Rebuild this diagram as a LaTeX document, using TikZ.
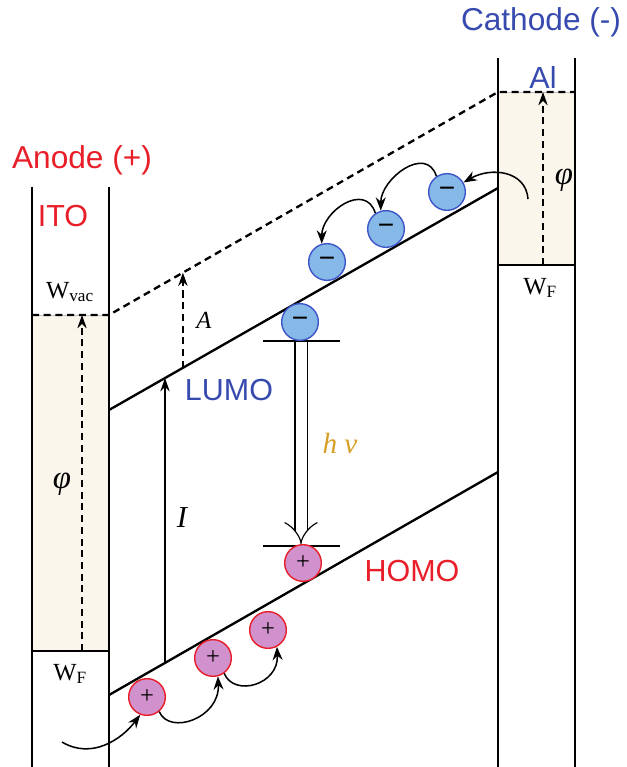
\documentclass[tikz,border=0pt]{standalone}
\usepackage{fontspec}
\setmainfont{Liberation Serif}
\setsansfont{Liberation Sans}
\usetikzlibrary{arrows.meta,calc}
\definecolor{AnodeRed}{RGB}{232,30,40}
\definecolor{CathBlue}{RGB}{55,75,175}
\definecolor{Beige}{RGB}{250,246,236}
\definecolor{ElecFill}{RGB}{135,185,232}
\definecolor{ElecLine}{RGB}{60,85,200}
\definecolor{HoleFill}{RGB}{208,145,205}
\definecolor{PhotonGold}{RGB}{214,160,40}

\begin{document}
\begin{tikzpicture}[x=0.03cm, y=-0.03cm,
  elec/.style={circle, draw=ElecLine, fill=ElecFill, line width=1.2pt, minimum size=1.1cm, inner sep=0pt, font=\sffamily\fontsize{24}{24}\selectfont},
  hole/.style={circle, draw=AnodeRed, fill=HoleFill, line width=1.2pt, minimum size=1.1cm, inner sep=0pt, font=\fontsize{21}{21}\selectfont},
  elabel/.style={font=\sffamily\fontsize{27}{27}\selectfont},
  bandlbl/.style={font=\sffamily\fontsize{26}{26}\selectfont},
  wlabel/.style={font=\fontsize{21}{21}\selectfont},
  greek/.style={font=\itshape\fontsize{28}{28}\selectfont},
  band/.style={line width=2pt},
  vac/.style={line width=2pt, dash pattern=on 6pt off 4pt},
  hop/.style={-{Stealth[length=4mm,width=3mm]}, line width=1.3pt},
  gap/.style={line width=1.2pt, dash pattern=on 6pt off 4pt, -{Stealth[length=4mm,width=2.8mm]}}]
\useasboundingbox (0,0) rectangle (627,767);

% electrodes
\fill[Beige, draw=black!25, line width=0.8pt] (32,315) rectangle (109,651);
\fill[Beige, draw=black!25, line width=0.8pt] (498,92) rectangle (575,265);
\draw[band] (32,187) -- (32,767);
\draw[band] (109,187) -- (109,767);
\draw[band] (498,58) -- (498,767);
\draw[band] (575,58) -- (575,767);
\draw[band] (32,651) -- (109,651);
\draw[band] (498,265) -- (575,265);

% levels
\coordinate (ito-vac)  at (109,315);
\coordinate (al-vac)   at (498,92);
\coordinate (ito-lumo) at (109,410);
\coordinate (al-lumo)  at (498,188);
\coordinate (ito-homo) at (109,695);
\coordinate (al-homo)  at (498,472);
\draw[vac] (32,315) -- (ito-vac) -- (al-vac) -- (575,92);
\draw[band] (ito-lumo) -- (al-lumo);
\draw[band] (ito-homo) -- (al-homo);

% work functions
\draw[gap] (82,651) -- (82,315);
\draw[gap] (543,265) -- (543,92);
\draw[gap] ($(ito-lumo)!0.19!(al-lumo)$) -- ($(ito-vac)!0.19!(al-vac)$);
\draw[-{Stealth[length=4mm,width=2.8mm]}, line width=1.2pt] ($(ito-homo)!0.144!(al-homo)$) -- ($(ito-lumo)!0.144!(al-lumo)$);

% labels
\node[elabel, text=AnodeRed] (anode) at (82,160) {Anode (+)};
\node[bandlbl, text=AnodeRed] (ito) at (63,216) {ITO};
\node[wlabel] (wvac) at (70,292) {W\textsubscript{vac}};
\node[wlabel] (wf1) at (70,674) {W\textsubscript{F}};
\node[wlabel] (wf2) at (540,288) {W\textsubscript{F}};
\node[greek] (phi1) at (62,484) {φ};
\node[greek] (phi2) at (564,180) {φ};
\node[elabel, text=CathBlue] (cathode) at (541,22) {Cathode (-)};
\node[bandlbl, text=CathBlue] (al) at (543,77) {Al};
\node[font=\itshape\fontsize{21}{21}\selectfont] (affin) at (204,320) {A};
\node[font=\itshape\fontsize{26}{26}\selectfont] (ioniz) at (182,518) {I};
\node[bandlbl, text=CathBlue] (lumo) at (229,390) {LUMO};
\node[bandlbl, text=AnodeRed] (homo) at (412,571) {HOMO};
\node[greek, text=PhotonGold, font=\itshape\fontsize{25}{25}\selectfont] (hnu) at (340,443) {h ν};

% recombination
\coordinate (up-l) at (263,341);
\coordinate (up-r) at (340,341);
\coordinate (dn-l) at (263,546);
\coordinate (dn-r) at (340,546);
\draw[band] (up-l) -- (up-r);
\draw[band] (dn-l) -- (dn-r);
\draw[double distance=0.33cm, line width=1pt, -{Implies}] (301,342) -- (301,544);

% charges
\node[elec] (e1) at (447,192) {−};
\node[elec] (e2) at (386,229) {−};
\node[elec] (e3) at (327,262) {−};
\node[elec] (e4) at (300,322) {−};
\node[hole] (h1) at (147,697) {+};
\node[hole] (h2) at (213,658) {+};
\node[hole] (h3) at (268,630) {+};
\node[hole] (h4) at (303,563) {+};

% hopping
\coordinate (e-in) at (528,199);
\coordinate (h-in) at (62,742);
\draw[hop] (e-in) .. controls +(-2,-28) and +(28,-16) .. (e1.30);
\draw[hop] (e1.124) .. controls +(-10,-32) and +(0,-32) .. (e2.106);
\draw[hop] (e2.124) .. controls +(-10,-32) and +(0,-32) .. (e3.106);
\draw[hop] (h-in) .. controls +(30,18) and +(-18,24) .. (h1.249);
\draw[hop] (h1.-50) .. controls +(10,24) and +(2,42) .. (h2.-75);
\draw[hop] (h2.-54) .. controls +(10,24) and +(2,38) .. (h3.-62);
\end{tikzpicture}
\end{document}
